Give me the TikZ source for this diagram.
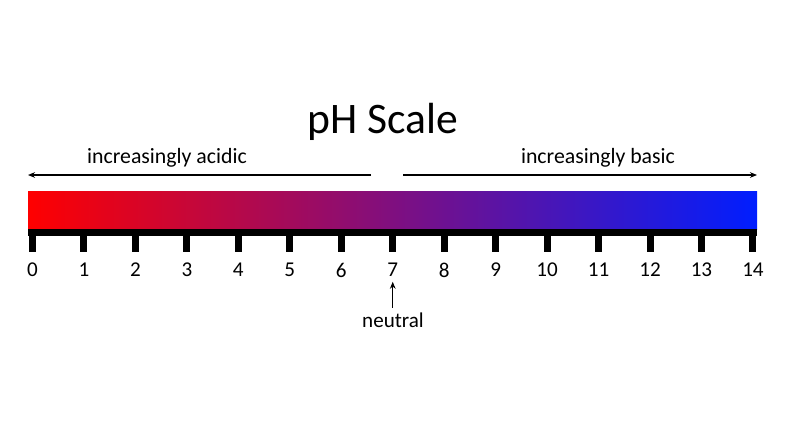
\documentclass[tikz,border=0pt]{standalone}
\usepackage{fontspec}
\setmainfont{Carlito}
\usetikzlibrary{arrows.meta,calc}
\definecolor{phred}{RGB}{255,0,0}
\definecolor{phmid}{RGB}{118,12,132}
\definecolor{phblue}{RGB}{0,30,255}

\begin{document}
\begin{tikzpicture}[x=0.025cm,y=-0.025cm,>={Stealth[length=5pt,width=4pt]}]
    \useasboundingbox[fill=white] (0,0) rectangle (800,420);

    % Title
    \node[font=\fontsize{31}{36}\selectfont] (title) at (383,122) {pH Scale};

    % Direction arrows
    \coordinate (accL) at (28,175);
    \coordinate (accR) at (371,175);
    \coordinate (basL) at (403,175);
    \coordinate (basR) at (757,175);
    \draw[->,line width=0.8pt] (accR) -- (accL);
    \draw[->,line width=0.8pt] (basL) -- (basR);
    \node[font=\fontsize{15.5}{18}\selectfont] (acid) at (167,158) {increasingly acidic};
    \node[font=\fontsize{15.5}{18}\selectfont] (base) at (598,158) {increasingly basic};

    % Colour bar
    \shade[left color=phred,middle color=phmid,right color=phblue] (28,191) rectangle (757,229);
    \fill[black] (28,229) rectangle (757,236);

    % Ticks and numbers
    \foreach \k in {0,...,14} {
        \fill[black] ($(32.5,236)+(\k*51.46,0)$) ++(-3.5,0) rectangle ++(7,16);
        \node[font=\fontsize{15}{18}\selectfont] (n\k) at ($(32.5,270)+(\k*51.46,0)$) {\k};
    }

    % Neutral
    \node[font=\fontsize{15}{18}\selectfont] (neutral) at (393,320) {neutral};
    \draw[->,line width=0.8pt] (neutral.north -| n7) -- (n7.south);
\end{tikzpicture}
\end{document}
